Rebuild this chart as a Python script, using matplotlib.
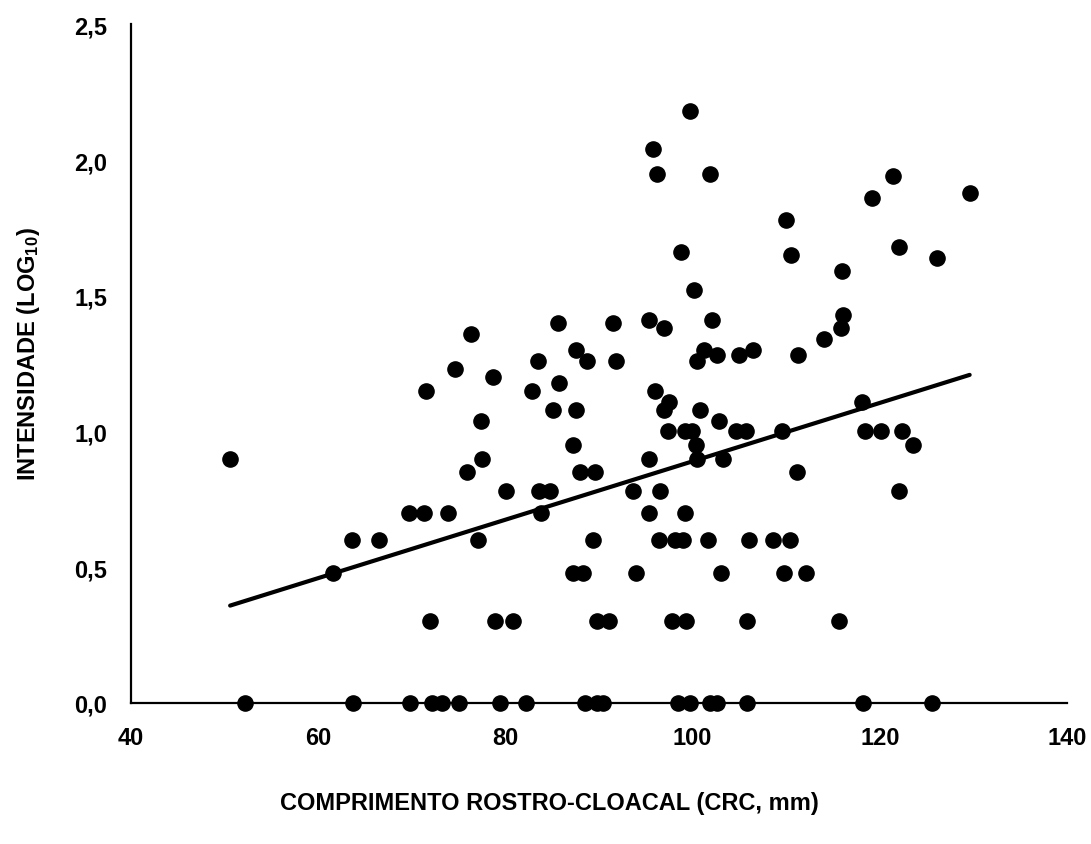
import numpy as np
import matplotlib
matplotlib.use('Agg')
import matplotlib.pyplot as plt

# snout-vent length (mm) and infection intensity (log10)
crc = [52.2, 63.7, 69.8, 72.2, 73.2, 75.1, 79.4, 82.2, 88.5, 89.8, 90.4, 98.4,
       99.7, 101.9, 102.6, 105.8, 118.2, 125.6,
       71.9, 78.9, 80.8, 89.8, 91.1, 97.8, 99.3, 105.8, 115.6,
       61.6, 87.2, 88.3, 94.0, 103.0, 109.8, 112.1,
       63.6, 66.5, 77.1, 89.4, 96.4, 98.1, 99.0, 101.6, 106.0, 108.6, 110.4,
       69.7, 71.3, 73.9, 83.8, 95.3, 99.2,
       80.1, 83.6, 84.8, 93.6, 96.5, 122.1,
       75.9, 88.0, 89.6, 111.2,
       50.6, 77.5, 95.3, 100.5, 103.2,
       87.2, 100.4, 123.5,
       97.4, 99.2, 99.9, 104.6, 105.7, 109.6, 118.4, 120.1, 122.4,
       77.4, 102.8,
       85.1, 87.5, 96.9, 100.8,
       97.5, 118.1,
       71.5, 82.8, 96.0,
       85.7, 78.7, 74.6,
       83.5, 88.7, 91.8, 100.5,
       102.6, 105.0, 111.3,
       87.6, 101.2, 106.5,
       114.0, 76.3, 96.9, 115.9, 85.6, 91.5, 95.3, 102.1, 116.1,
       100.1, 116.0, 126.1, 110.5, 98.8, 122.1, 110.0, 119.2, 129.6, 121.4,
       96.2, 101.9, 95.8, 99.7]

intensidade = [0.0] * 18 + [0.30] * 9 + [0.48] * 7 + [0.60] * 11 + [0.70] * 6 \
    + [0.78] * 6 + [0.85] * 4 + [0.90] * 5 + [0.95] * 3 + [1.00] * 9 \
    + [1.04] * 2 + [1.08] * 4 + [1.11] * 2 + [1.15] * 3 \
    + [1.18, 1.20, 1.23] + [1.26] * 4 + [1.28] * 3 + [1.30] * 3 \
    + [1.34, 1.36, 1.38, 1.38, 1.40, 1.40, 1.41, 1.41, 1.43] \
    + [1.52, 1.59, 1.64, 1.65, 1.66, 1.68, 1.78, 1.86, 1.88, 1.94] \
    + [1.95, 1.95, 2.04, 2.18]

# linear trend line as drawn in the figure
TREND_SLOPE = 0.01076
TREND_INTERCEPT = -0.186

XTICKS = [40, 60, 80, 100, 120, 140]
YTICKS = [0.0, 0.5, 1.0, 1.5, 2.0, 2.5]

plt.rcParams['font.family'] = ['Liberation Sans', 'DejaVu Sans']
plt.rcParams['font.weight'] = 'bold'
plt.rcParams['mathtext.fontset'] = 'custom'
plt.rcParams['mathtext.rm'] = 'Liberation Sans:bold'
plt.rcParams['mathtext.default'] = 'rm'

fig = plt.figure(figsize=(10.91, 8.45), dpi=100)
ax = fig.add_axes([0.120, 0.167, 0.858, 0.803])

ax.scatter(crc, intensidade, s=120, color='black', zorder=3, clip_on=False)

xs = np.array([min(crc), max(crc)])
ax.plot(xs, TREND_SLOPE * xs + TREND_INTERCEPT, color='black', lw=3,
        solid_capstyle='round', zorder=2)

ax.set_xlim(40, 140)
ax.set_ylim(0, 2.5)
ax.set_xticks(XTICKS)
ax.set_yticks(YTICKS)
ax.set_yticklabels([('%.1f' % v).replace('.', ',') for v in YTICKS])
ax.tick_params(length=0, labelsize=17, pad=17)
for lab in ax.get_xticklabels() + ax.get_yticklabels():
    lab.set_fontweight('bold')

for side in ['top', 'right']:
    ax.spines[side].set_visible(False)
for side in ['left', 'bottom']:
    ax.spines[side].set_linewidth(1.6)

ax.set_xlabel('COMPRIMENTO ROSTRO-CLOACAL (CRC, mm)', fontsize=17,
              fontweight='bold')
ax.set_ylabel('INTENSIDADE (LOG$_{10}$)', fontsize=17, fontweight='bold')
# the labels sit a little off-centre in the original
ax.xaxis.set_label_coords(0.447, -0.13)
ax.yaxis.set_label_coords(-0.095, 0.515)

fig.savefig('out.png', dpi=100)
